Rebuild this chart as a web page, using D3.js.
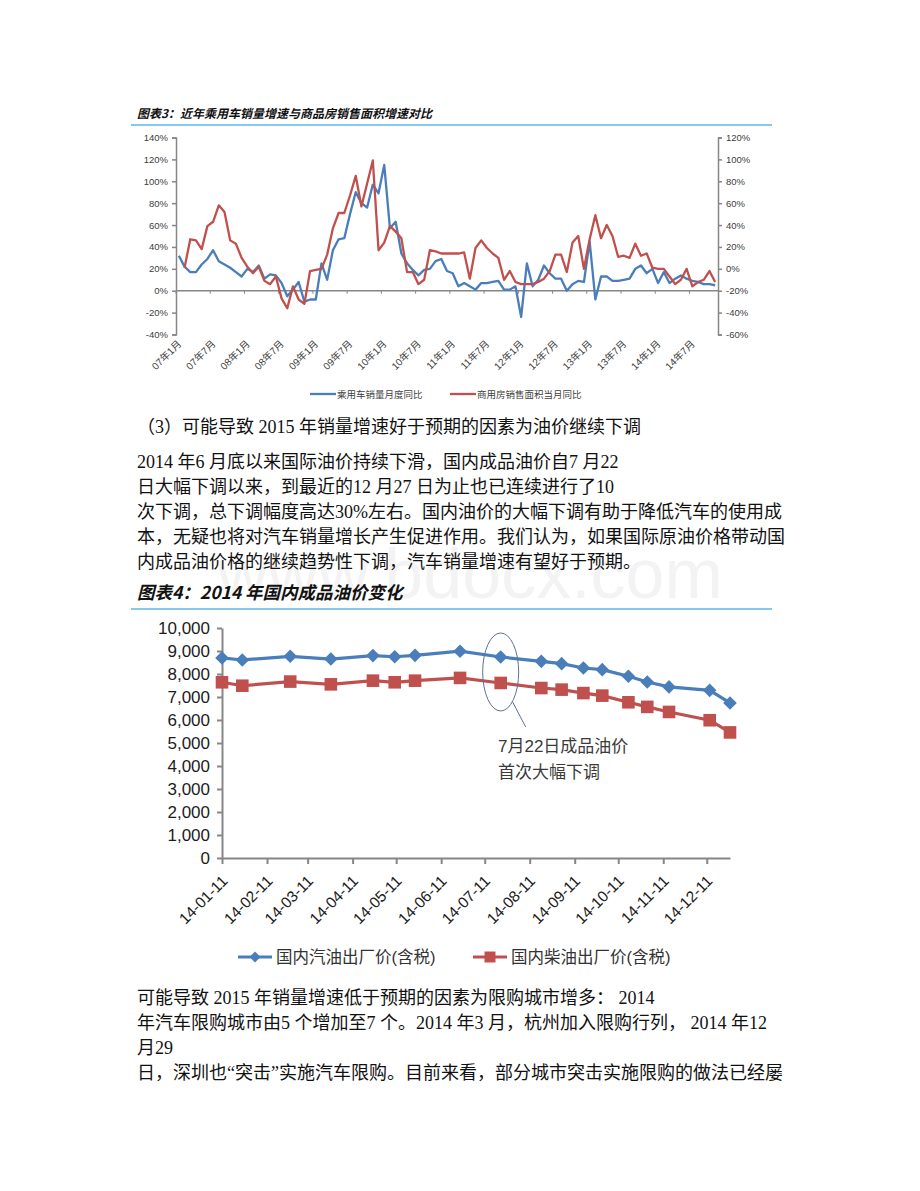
<!DOCTYPE html>
<html>
<head>
<meta charset="utf-8">
<script src="https://cdnjs.cloudflare.com/ajax/libs/d3/7.8.5/d3.min.js"></script>
<style>
  body { margin: 0; background: #fff; }
</style>
</head>
<body>
<div id="page"></div>
<script>
// Data
//

// chart 3: monthly yoy, Jan 2007 .. Nov 2014
var carTickLabels = ["07年1月", "07年7月", "08年1月", "08年7月", "09年1月", "09年7月",
  "10年1月", "10年7月", "11年1月", "11年7月", "12年1月", "12年7月",
  "13年1月", "13年7月", "14年1月", "14年7月"];

// 乘用车销量月度同比 (left axis, %)
var carGrowth = [32, 22, 17, 17, 24, 29, 37, 27, 24, 21, 17, 13,
  20, 17, 23, 11, 15, 14, 7, -5, 1, 8, -10, -8,
  -8, 25, 10, 37, 47, 48, 70, 90, 80, 76, 97, 89,
  115, 57, 63, 34, 25, 19, 14, 19, 20, 27, 29, 18,
  16, 4, 7, 4, 1, 7, 7, 8, 9, 1, 1, 4,
  -24, 25, 4, 10, 23, 16, 11, 11, 0, 6, 9, 8,
  45, -8, 13, 13, 9, 9, 10, 11, 20, 23, 16, 20,
  7, 17, 7, 11, 14, 11, 9, 8, 6, 6, 5];

// 商用房销售面积当月同比 (right axis, %)
var houseGrowth = [null, 1, 27, 26, 18, 39, 43, 58, 52, 26, 23, 10,
  2, -4, 2, -11, -14, -7, -27, -36, -16, -28, -32, -2,
  -1, 0, 13, 37, 51, 51, 67, 85, 57, 78, 99, 17,
  24, 39, 34, 28, -3, -3, -14, -10, 17, 16, 14, 14,
  14, 14, 15, -9, 19, 26, 19, 14, 10, -10, -2, -12,
  -14, -14, -14, -12, -9, -2, 13, 13, -3, 24, 30, 0,
  27, 49, 28, 40, 30, 11, 12, 10, 23, 12, 14, 1,
  0, 0, -7, -14, -10, 0, -16, -12, -10, -2, -12];

var carLegend = ["乘用车销量月度同比", "商用房销售面积当月同比"];

// chart 4: 2014 oil price adjustments
var oilDates = ["2014-01-11", "2014-01-25", "2014-02-27", "2014-03-27", "2014-04-25",
  "2014-05-10", "2014-05-24", "2014-06-24", "2014-07-22", "2014-08-19", "2014-09-02",
  "2014-09-17", "2014-09-30", "2014-10-18", "2014-10-31", "2014-11-15", "2014-12-13",
  "2014-12-27"];
var gasolinePrice = [8700, 8610, 8770, 8650, 8800, 8750, 8810, 8990, 8740, 8550, 8450,
  8260, 8190, 7900, 7650, 7440, 7290, 6740];
var dieselPrice = [7640, 7490, 7670, 7550, 7710, 7640, 7710, 7830, 7610, 7390, 7320,
  7170, 7060, 6770, 6570, 6350, 5990, 5460];
var oilTickLabels = ["14-01-11", "14-02-11", "14-03-11", "14-04-11", "14-05-11", "14-06-11",
  "14-07-11", "14-08-11", "14-09-11", "14-10-11", "14-11-11", "14-12-11"];
var oilLegend = ["国内汽油出厂价(含税)", "国内柴油出厂价(含税)"];
var oilNote = ["7月22日成品油价", "首次大幅下调"];

// text of the page
var paraTop = [
  "（3）可能导致 2015 年销量增速好于预期的因素为油价继续下调"
];
var paraOil = [
  "2014 年6 月底以来国际油价持续下滑，国内成品油价自7 月22",
  "日大幅下调以来，到最近的12 月27 日为止也已连续进行了10",
  "次下调，总下调幅度高达30%左右。国内油价的大幅下调有助于降低汽车的使用成",
  "本，无疑也将对汽车销量增长产生促进作用。我们认为，如果国际原油价格带动国",
  "内成品油价格的继续趋势性下调，汽车销量增速有望好于预期。"
];
var paraLimit = [
  "可能导致 2015 年销量增速低于预期的因素为限购城市增多： 2014",
  "年汽车限购城市由5 个增加至7 个。2014 年3 月，杭州加入限购行列， 2014 年12",
  "月29",
  "日，深圳也“突击”实施汽车限购。目前来看，部分城市突击实施限购的做法已经屡"
];

// Helpers
//

var BLUE = "#4a7ebb";
var RED = "#c0504d";
var AXIS = "#868686";
var BODY_FONT = "'Liberation Serif', 'Noto Sans CJK SC', serif";
var SANS = "'Liberation Sans', 'Noto Sans CJK SC', sans-serif";

var svg = d3.select("#page").append("svg")
  .attr("width", 920)
  .attr("height", 1191)
  .style("background", "#fff");

function styleAxis(sel, fontSize, color) {
  sel.selectAll("path, line").attr("stroke", AXIS).attr("stroke-width", 1.5);
  sel.selectAll("text")
    .attr("font-family", SANS)
    .attr("font-size", fontSize)
    .attr("fill", color);
}

function textLines(lines, x, y0, step, size) {
  lines.forEach(function(s, i) {
    svg.append("text")
      .attr("x", x)
      .attr("y", y0 + i * step)
      .attr("font-family", BODY_FONT)
      .attr("font-size", size)
      .attr("fill", "#111")
      .text(s);
  });
}

function titleBlock(label, y, size, lineY) {
  svg.append("text")
    .attr("x", 137)
    .attr("y", y)
    .attr("font-family", "'Noto Sans CJK SC', sans-serif")
    .attr("font-weight", "bold")
    .attr("font-style", "italic")
    .attr("font-size", size)
    .attr("fill", "#111")
    .text(label);
  svg.append("line")
    .attr("x1", 131).attr("x2", 772)
    .attr("y1", lineY).attr("y2", lineY)
    .attr("stroke", "#5fb6e6")
    .attr("stroke-width", 1.5);
}

// watermark, sits behind everything
svg.append("text")
  .attr("x", 470).attr("y", 598)
  .attr("text-anchor", "middle")
  .attr("font-family", SANS)
  .attr("font-size", 70)
  .attr("fill", "#f3f3f3")
  .text("www.bdocx.com");

// Chart 3: car sales vs housing sales
//

function drawCarChart() {
  var left = 176, right = 718, top = 137.5, bottom = 334.5;
  var n = carGrowth.length;

  titleBlock("图表3：近年乘用车销量增速与商品房销售面积增速对比", 118, 12, 125);

  var x = d3.scaleBand().domain(d3.range(n)).range([left, right]);
  var bw = x.bandwidth();
  var yL = d3.scaleLinear().domain([-40, 140]).range([bottom, top]);
  var yR = d3.scaleLinear().domain([-60, 120]).range([bottom, top]);

  var axL = d3.axisLeft(yL)
    .tickValues(d3.range(-40, 141, 20))
    .tickSize(4)
    .tickPadding(4)
    .tickFormat(function(d) { return d + "%"; });
  var gL = svg.append("g").attr("transform", "translate(" + left + ",0)").call(axL);
  styleAxis(gL, 9.5, "#404040");

  var axR = d3.axisRight(yR)
    .tickValues(d3.range(-60, 121, 20))
    .tickSize(4)
    .tickPadding(4)
    .tickFormat(function(d) { return d + "%"; });
  var gR = svg.append("g").attr("transform", "translate(" + right + ",0)").call(axR);
  styleAxis(gR, 9.5, "#404040");

  // category axis crosses at 0% of the left axis
  var y0 = yL(0);
  svg.append("line")
    .attr("x1", left).attr("x2", right)
    .attr("y1", y0).attr("y2", y0)
    .attr("stroke", AXIS).attr("stroke-width", 1.5);

  var tickIdx = carTickLabels.map(function(d, i) { return i * 6; });
  svg.selectAll(".ctick").data(tickIdx).enter().append("line")
    .attr("x1", function(d) { return x(d); })
    .attr("x2", function(d) { return x(d); })
    .attr("y1", y0).attr("y2", y0 + 3)
    .attr("stroke", AXIS).attr("stroke-width", 1);

  svg.selectAll(".clab").data(carTickLabels).enter().append("text")
    .attr("transform", function(d, i) {
      return "translate(" + (x(tickIdx[i]) + 6) + "," + (bottom + 10) + ") rotate(-45)";
    })
    .attr("text-anchor", "end")
    .attr("font-family", SANS)
    .attr("font-size", 10)
    .attr("fill", "#404040")
    .text(function(d) { return d; });

  var lineL = d3.line()
    .defined(function(d) { return d != null; })
    .x(function(d, i) { return x(i) + bw / 2; })
    .y(function(d) { return yL(d); });
  var lineR = d3.line()
    .defined(function(d) { return d != null; })
    .x(function(d, i) { return x(i) + bw / 2; })
    .y(function(d) { return yR(d); });

  svg.append("path").datum(carGrowth)
    .attr("d", lineL)
    .attr("fill", "none").attr("stroke", BLUE)
    .attr("stroke-width", 2.3).attr("stroke-linejoin", "round");
  svg.append("path").datum(houseGrowth)
    .attr("d", lineR)
    .attr("fill", "none").attr("stroke", RED)
    .attr("stroke-width", 2.3).attr("stroke-linejoin", "round");

  // legend
  var lg = [{x: 310, c: BLUE}, {x: 450, c: RED}];
  lg.forEach(function(l, i) {
    svg.append("line")
      .attr("x1", l.x).attr("x2", l.x + 26)
      .attr("y1", 394).attr("y2", 394)
      .attr("stroke", l.c).attr("stroke-width", 2.3);
    svg.append("text")
      .attr("x", l.x + 27).attr("y", 397.5)
      .attr("font-family", SANS)
      .attr("font-size", 9.5)
      .attr("fill", "#404040")
      .text(carLegend[i]);
  });
}

// Chart 4: oil prices
//

function diamond(s) {
  return "M0," + (-s) + "L" + s + ",0L0," + s + "L" + (-s) + ",0Z";
}

function drawOilChart() {
  var left = 222, right = 730, top = 628, bottom = 858;
  var parse = d3.timeParse("%Y-%m-%d");
  var parseTick = d3.timeParse("%y-%m-%d");
  var dates = oilDates.map(parse);

  titleBlock("图表4：2014 年国内成品油价变化", 599, 17.5, 609);

  var x = d3.scaleTime().domain([dates[0], dates[dates.length - 1]]).range([left, right]);
  var y = d3.scaleLinear().domain([0, 10000]).range([bottom, top]);

  var ay = d3.axisLeft(y)
    .tickValues(d3.range(0, 10001, 1000))
    .tickSize(5)
    .tickSizeOuter(0)
    .tickPadding(7)
    .tickFormat(d3.format(","));
  var gy = svg.append("g").attr("transform", "translate(" + left + ",0)").call(ay);
  styleAxis(gy, 17, "#1c1c1c");
  gy.selectAll("path, line").attr("stroke-width", 2);

  var ax = d3.axisBottom(x)
    .tickValues(oilTickLabels.map(parseTick))
    .tickSize(6)
    .tickSizeOuter(0)
    .tickFormat(function(d, i) { return oilTickLabels[i]; });
  var gx = svg.append("g").attr("transform", "translate(0," + bottom + ")").call(ax);
  styleAxis(gx, 15.5, "#1c1c1c");
  gx.selectAll("path, line").attr("stroke-width", 2);
  gx.selectAll("text")
    .attr("text-anchor", "end")
    .attr("dy", null)
    .attr("y", null)
    .attr("transform", "translate(6,24) rotate(-45)");

  var series = [
    {vals: gasolinePrice, c: BLUE, mark: "d"},
    {vals: dieselPrice, c: RED, mark: "s"}
  ];
  series.forEach(function(s) {
    var line = d3.line()
      .x(function(d, i) { return x(dates[i]); })
      .y(function(d) { return y(d); });
    svg.append("path").datum(s.vals)
      .attr("d", line)
      .attr("fill", "none").attr("stroke", s.c)
      .attr("stroke-width", 3.2);
    var m = svg.append("g").selectAll("path").data(s.vals).enter().append("path")
      .attr("transform", function(d, i) {
        return "translate(" + x(dates[i]) + "," + y(d) + ")";
      })
      .attr("fill", s.c);
    if (s.mark == "d") {
      m.attr("d", diamond(6.8));
    } else {
      m.attr("d", "M-6.3,-6.3H6.3V6.3H-6.3Z");
    }
  });

  // annotation around the 7/22 cut
  var ax0 = x(parse("2014-07-22"));
  svg.append("ellipse")
    .attr("cx", ax0).attr("cy", 672)
    .attr("rx", 18).attr("ry", 39)
    .attr("fill", "none")
    .attr("stroke", "#5d7290").attr("stroke-width", 1);
  svg.append("line")
    .attr("x1", ax0 + 12).attr("y1", 702)
    .attr("x2", ax0 + 25).attr("y2", 727)
    .attr("stroke", "#5d7290").attr("stroke-width", 1);
  oilNote.forEach(function(s, i) {
    svg.append("text")
      .attr("x", 498).attr("y", 752 + i * 26)
      .attr("font-family", SANS)
      .attr("font-size", 17)
      .attr("fill", "#3a3a3a")
      .text(s);
  });

  // legend
  var lg = [{x: 238, c: BLUE, mark: "d"}, {x: 473, c: RED, mark: "s"}];
  lg.forEach(function(l, i) {
    svg.append("line")
      .attr("x1", l.x).attr("x2", l.x + 34)
      .attr("y1", 957).attr("y2", 957)
      .attr("stroke", l.c).attr("stroke-width", 3.2);
    svg.append("path")
      .attr("transform", "translate(" + (l.x + 17) + ",957)")
      .attr("d", l.mark == "d" ? diamond(5.5) : "M-5.5,-5.5H5.5V5.5H-5.5Z")
      .attr("fill", l.c);
    svg.append("text")
      .attr("x", l.x + 38).attr("y", 963)
      .attr("font-family", SANS)
      .attr("font-size", 16.5)
      .attr("fill", "#333")
      .text(oilLegend[i]);
  });
}

// Page
//

drawCarChart();
textLines(paraTop, 137, 433, 0, 18);
textLines(paraOil, 137, 468, 25, 18);
drawOilChart();
textLines(paraLimit, 137, 1004, 25, 18);
</script>
</body>
</html>
